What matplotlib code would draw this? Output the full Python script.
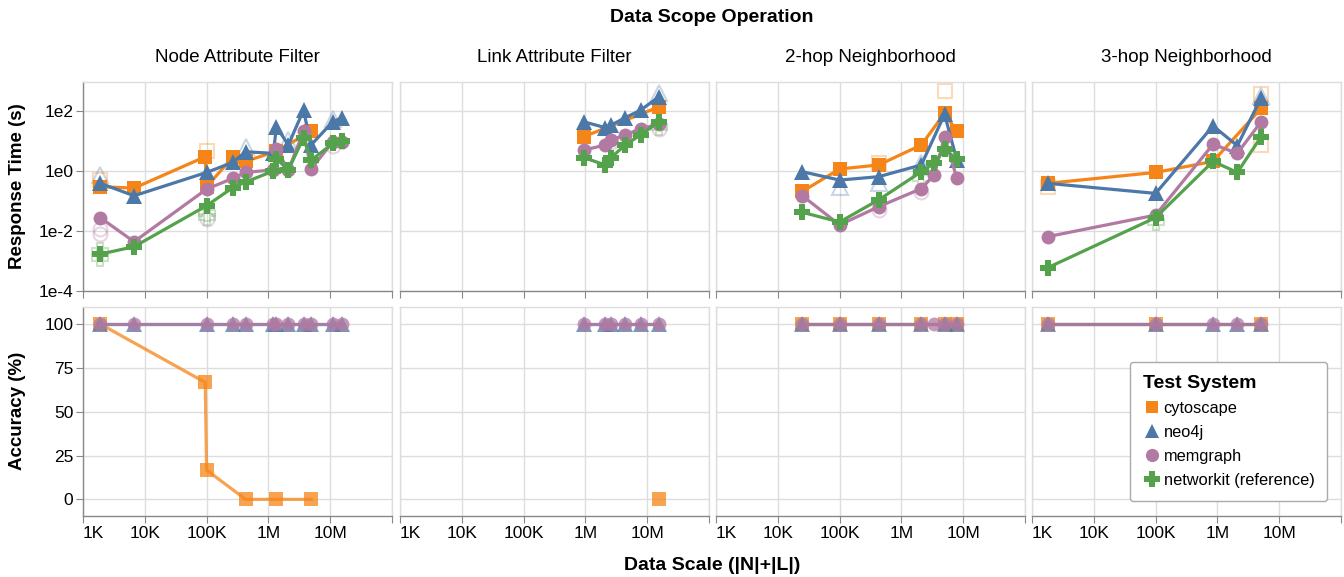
import matplotlib
matplotlib.use("Agg")
import matplotlib.pyplot as plt
from matplotlib.lines import Line2D

plt.rcParams["font.family"] = ["Liberation Sans", "DejaVu Sans"]

# ----- data -----
operations = ["Node Attribute Filter", "Link Attribute Filter",
              "2-hop Neighborhood", "3-hop Neighborhood"]
systems = ["cytoscape", "neo4j", "memgraph", "networkit"]
legend_labels = ["cytoscape", "neo4j", "memgraph", "networkit (reference)"]

x_ticks = [1e3, 1e4, 1e5, 1e6, 1e7, 1e8]
x_tick_labels = ["1K", "10K", "100K", "1M", "10M", ""]
y_time_ticks = [1e-4, 1e-2, 1e0, 1e2]
y_time_labels = ["1e-4", "1e-2", "1e0", "1e2"]
y_acc_ticks = [0, 25, 50, 75, 100]

node_x = [1.9e3, 6.7e3, 1e5, 2.65e5, 4.27e5, 1.2e6, 1.35e6, 2.1e6, 3.7e6, 4.9e6, 1.1e7, 1.55e7]
node_time = {
    "cytoscape": ([1.9e3, 6.7e3, 9.5e4, 1e5, 2.65e5, 4.27e5, 1.35e6, 4.9e6],
                  [0.3, 0.27, 3.0, 0.3, 2.9, 2.1, 4.6, 21]),
    "neo4j": (node_x, [0.39, 0.15, 0.9, 1.95, 4.4, 3.9, 30, 7.4, 107, 7.4, 44, 60]),
    "memgraph": (node_x, [0.028, 0.0044, 0.25, 0.57, 0.9, 1.1, 5.4, 1.07, 21, 1.15, 9.5, 9.5]),
    "networkit": (node_x, [0.0017, 0.003, 0.07, 0.28, 0.43, 1.0, 2.6, 1.07, 13, 2.3, 8.3, 10]),
}
node_acc = {
    "cytoscape": ([1.9e3, 9.5e4, 1e5, 4.27e5, 1.35e6, 4.9e6], [100, 66.7, 16.7, 0, 0, 0]),
    "neo4j": (node_x, [100] * 12),
    "memgraph": (node_x, [100] * 12),
}
node_trials = [("neo4j", 1.9e3, 0.75), ("neo4j", 4.27e5, 6.5), ("neo4j", 2.1e6, 11),
               ("neo4j", 1.1e7, 55), ("cytoscape", 1e5, 4.5), ("cytoscape", 1.9e3, 0.5),
               ("memgraph", 1.9e3, 0.012), ("memgraph", 1.9e3, 0.008), ("memgraph", 1e5, 0.025),
               ("memgraph", 1.1e7, 7), ("networkit", 1e5, 0.04), ("networkit", 1e5, 0.03),
               ("networkit", 1.9e3, 0.0013), ("networkit", 1.9e3, 0.0022)]

link_x = [9.4e5, 2.1e6, 2.6e6, 4.4e6, 7.8e6, 1.55e7]
link_time = {
    "cytoscape": ([9.4e5, 1.55e7], [14, 138]),
    "neo4j": (link_x, [44, 28, 34, 60, 107, 300]),
    "memgraph": (link_x, [5, 7.4, 10.8, 16, 26, 36]),
    "networkit": (link_x, [2.8, 1.6, 2.8, 7.4, 16, 44]),
}
link_acc = {
    "cytoscape": ([1.55e7], [0]),
    "neo4j": (link_x, [100] * 6),
    "memgraph": (link_x, [100] * 6),
}
link_trials = [("neo4j", 1.55e7, 400), ("memgraph", 1.55e7, 25), ("networkit", 1.55e7, 30),
               ("memgraph", 2.6e6, 9)]

hop2_x = [2.5e4, 1e5, 4.3e5, 2.1e6, 3.4e6, 5e6, 7.9e6]
hop2_x6 = [2.5e4, 1e5, 4.3e5, 2.1e6, 5e6, 7.9e6]
hop2_time = {
    "cytoscape": (hop2_x6, [0.21, 1.17, 1.6, 7.4, 84, 21]),
    "neo4j": (hop2_x6, [0.95, 0.5, 0.65, 1.6, 78, 2.3]),
    "memgraph": (hop2_x, [0.15, 0.016, 0.065, 0.26, 0.74, 14, 0.57]),
    "networkit": (hop2_x, [0.042, 0.02, 0.11, 0.95, 1.8, 5.4, 2.5]),
}
hop2_acc = {
    "cytoscape": (hop2_x6, [100] * 6),
    "neo4j": (hop2_x6, [100] * 6),
    "memgraph": (hop2_x, [100] * 7),
}
hop2_trials = [("cytoscape", 5e6, 460), ("cytoscape", 4.3e5, 1.8), ("neo4j", 1e5, 0.3),
               ("neo4j", 4.3e5, 0.4), ("neo4j", 2.1e6, 1.9), ("memgraph", 4.3e5, 0.05),
               ("memgraph", 2.1e6, 0.2), ("networkit", 2.1e6, 0.6)]

hop3_x = [1.8e3, 1e5, 8.5e5, 2.1e6, 5.1e6]
hop3_time = {
    "cytoscape": ([1.8e3, 1e5, 8.5e5, 5.1e6], [0.39, 0.9, 2.1, 123]),
    "neo4j": (hop3_x, [0.39, 0.18, 32, 7, 275]),
    "memgraph": (hop3_x, [0.0065, 0.034, 7.8, 3.9, 44]),
    "networkit": (hop3_x, [0.0006, 0.028, 2.1, 0.9, 14]),
}
hop3_acc = {
    "cytoscape": ([1.8e3, 1e5, 5.1e6], [100] * 3),
    "neo4j": (hop3_x, [100] * 5),
    "memgraph": (hop3_x, [100] * 5),
}
hop3_trials = [("cytoscape", 5.1e6, 360), ("cytoscape", 5.1e6, 7.4), ("cytoscape", 1.8e3, 0.3),
               ("networkit", 1e5, 0.02), ("neo4j", 5.1e6, 320)]

time_data = [node_time, link_time, hop2_time, hop3_time]
acc_data = [node_acc, link_acc, hop2_acc, hop3_acc]
trial_data = [node_trials, link_trials, hop2_trials, hop3_trials]

colors = {"cytoscape": "#f58518", "neo4j": "#4c78a8",
          "memgraph": "#b279a2", "networkit": "#54a24b"}
markers = {"cytoscape": "s", "neo4j": "^", "memgraph": "o", "networkit": "P"}
msize = {"cytoscape": 9.5, "neo4j": 11, "memgraph": 10, "networkit": 11.5}

# ----- layout (pixel geometry of the reference) -----
W, H = 1344, 577
col_left = [83, 400, 716, 1032]
col_w = 309
top_row = (82, 291)
bot_row = (307, 516)
GRID = "#dddddd"
DOMAIN = "#888888"


def px_axes(fig, left, top, bottom):
    return fig.add_axes([left / W, 1 - bottom / H, col_w / W, (bottom - top) / H])


def style_axes(ax, first_col, show_xlabels):
    ax.set_xscale("log")
    ax.set_xlim(1e3, 1e8)
    ax.set_xticks(x_ticks)
    ax.minorticks_off()
    ax.grid(True, color=GRID, linewidth=1)
    ax.set_axisbelow(True)
    for s in ax.spines.values():
        s.set_color(GRID)
        s.set_linewidth(1)
    ax.spines["bottom"].set_color(DOMAIN)
    if first_col:
        ax.spines["left"].set_color(DOMAIN)
    ax.tick_params(axis="x", length=5, color=DOMAIN, labelsize=12.5, pad=2)
    ax.tick_params(axis="y", length=5 if first_col else 0, color=DOMAIN,
                   labelsize=12.5, pad=2)
    if show_xlabels:
        ax.set_xticklabels(x_tick_labels)
        ax.get_xticklabels()[0].set_horizontalalignment("left")
    else:
        ax.set_xticklabels([])


fig = plt.figure(figsize=(W / 100, H / 100), dpi=100)

for c, op in enumerate(operations):
    ax_t = px_axes(fig, col_left[c], *top_row)
    ax_a = px_axes(fig, col_left[c], *bot_row)
    style_axes(ax_t, c == 0, False)
    style_axes(ax_a, c == 0, True)

    ax_t.set_yscale("log")
    ax_t.set_ylim(1e-4, 10 ** 2.97)
    ax_t.set_yticks(y_time_ticks)
    ax_t.minorticks_off()
    ax_a.set_ylim(-9.5, 109.7)
    ax_a.set_yticks(y_acc_ticks)
    if c == 0:
        ax_t.set_yticklabels(y_time_labels)
        ax_a.set_yticklabels([str(v) for v in y_acc_ticks])
    else:
        ax_t.set_yticklabels([])
        ax_a.set_yticklabels([])

    # faint individual runs
    for sys_name, xv, yv in trial_data[c]:
        ax_t.plot([xv], [yv], linestyle="none", marker=markers[sys_name],
                  markersize=msize[sys_name], markerfacecolor="none",
                  markeredgecolor=colors[sys_name], markeredgewidth=1.5, alpha=0.3)

    for s in systems:
        xs, ys = time_data[c][s]
        ax_t.plot(xs, ys, color=colors[s], linewidth=2.3, marker=markers[s],
                  markersize=msize[s], markeredgewidth=0, clip_on=False)
        if s in acc_data[c]:
            xa, ya = acc_data[c][s]
            ax_a.plot(xa, ya, color=colors[s], linewidth=2.3, marker=markers[s],
                      markersize=msize[s], markeredgewidth=0, alpha=0.75)

    fig.text((col_left[c] + col_w / 2) / W, 1 - 58 / H, op,
             ha="center", va="center", fontsize=13.5)

fig.text(712 / W, 1 - 17 / H, "Data Scope Operation", ha="center", va="center",
         fontsize=14, fontweight="bold")
fig.text(712 / W, 1 - 565 / H, "Data Scale (|N|+|L|)", ha="center", va="center",
         fontsize=14, fontweight="bold")
fig.text(18 / W, 1 - 186 / H, "Response Time (s)", ha="center", va="center",
         rotation=90, fontsize=13.5, fontweight="bold")
fig.text(18 / W, 1 - 411 / H, "Accuracy (%)", ha="center", va="center",
         rotation=90, fontsize=13.5, fontweight="bold")

handles = [Line2D([], [], linestyle="none", marker=markers[s], color=colors[s],
                  markersize=msize[s] * 0.95, markeredgewidth=0) for s in systems]
leg = fig.legend(handles, legend_labels, title="Test System",
                 loc="upper left", bbox_to_anchor=(1130 / W, 1 - 362 / H),
                 borderaxespad=0,
                 fontsize=11.8, title_fontproperties={"weight": "bold", "size": 14},
                 frameon=True, handletextpad=0.15, handlelength=1.1,
                 labelspacing=0.55, borderpad=0.8)
leg._legend_box.align = "left"
frame = leg.get_frame()
frame.set_edgecolor("#aaaaaa")
frame.set_linewidth(1)
frame.set_alpha(1)

fig.savefig("out.png", dpi=100)
